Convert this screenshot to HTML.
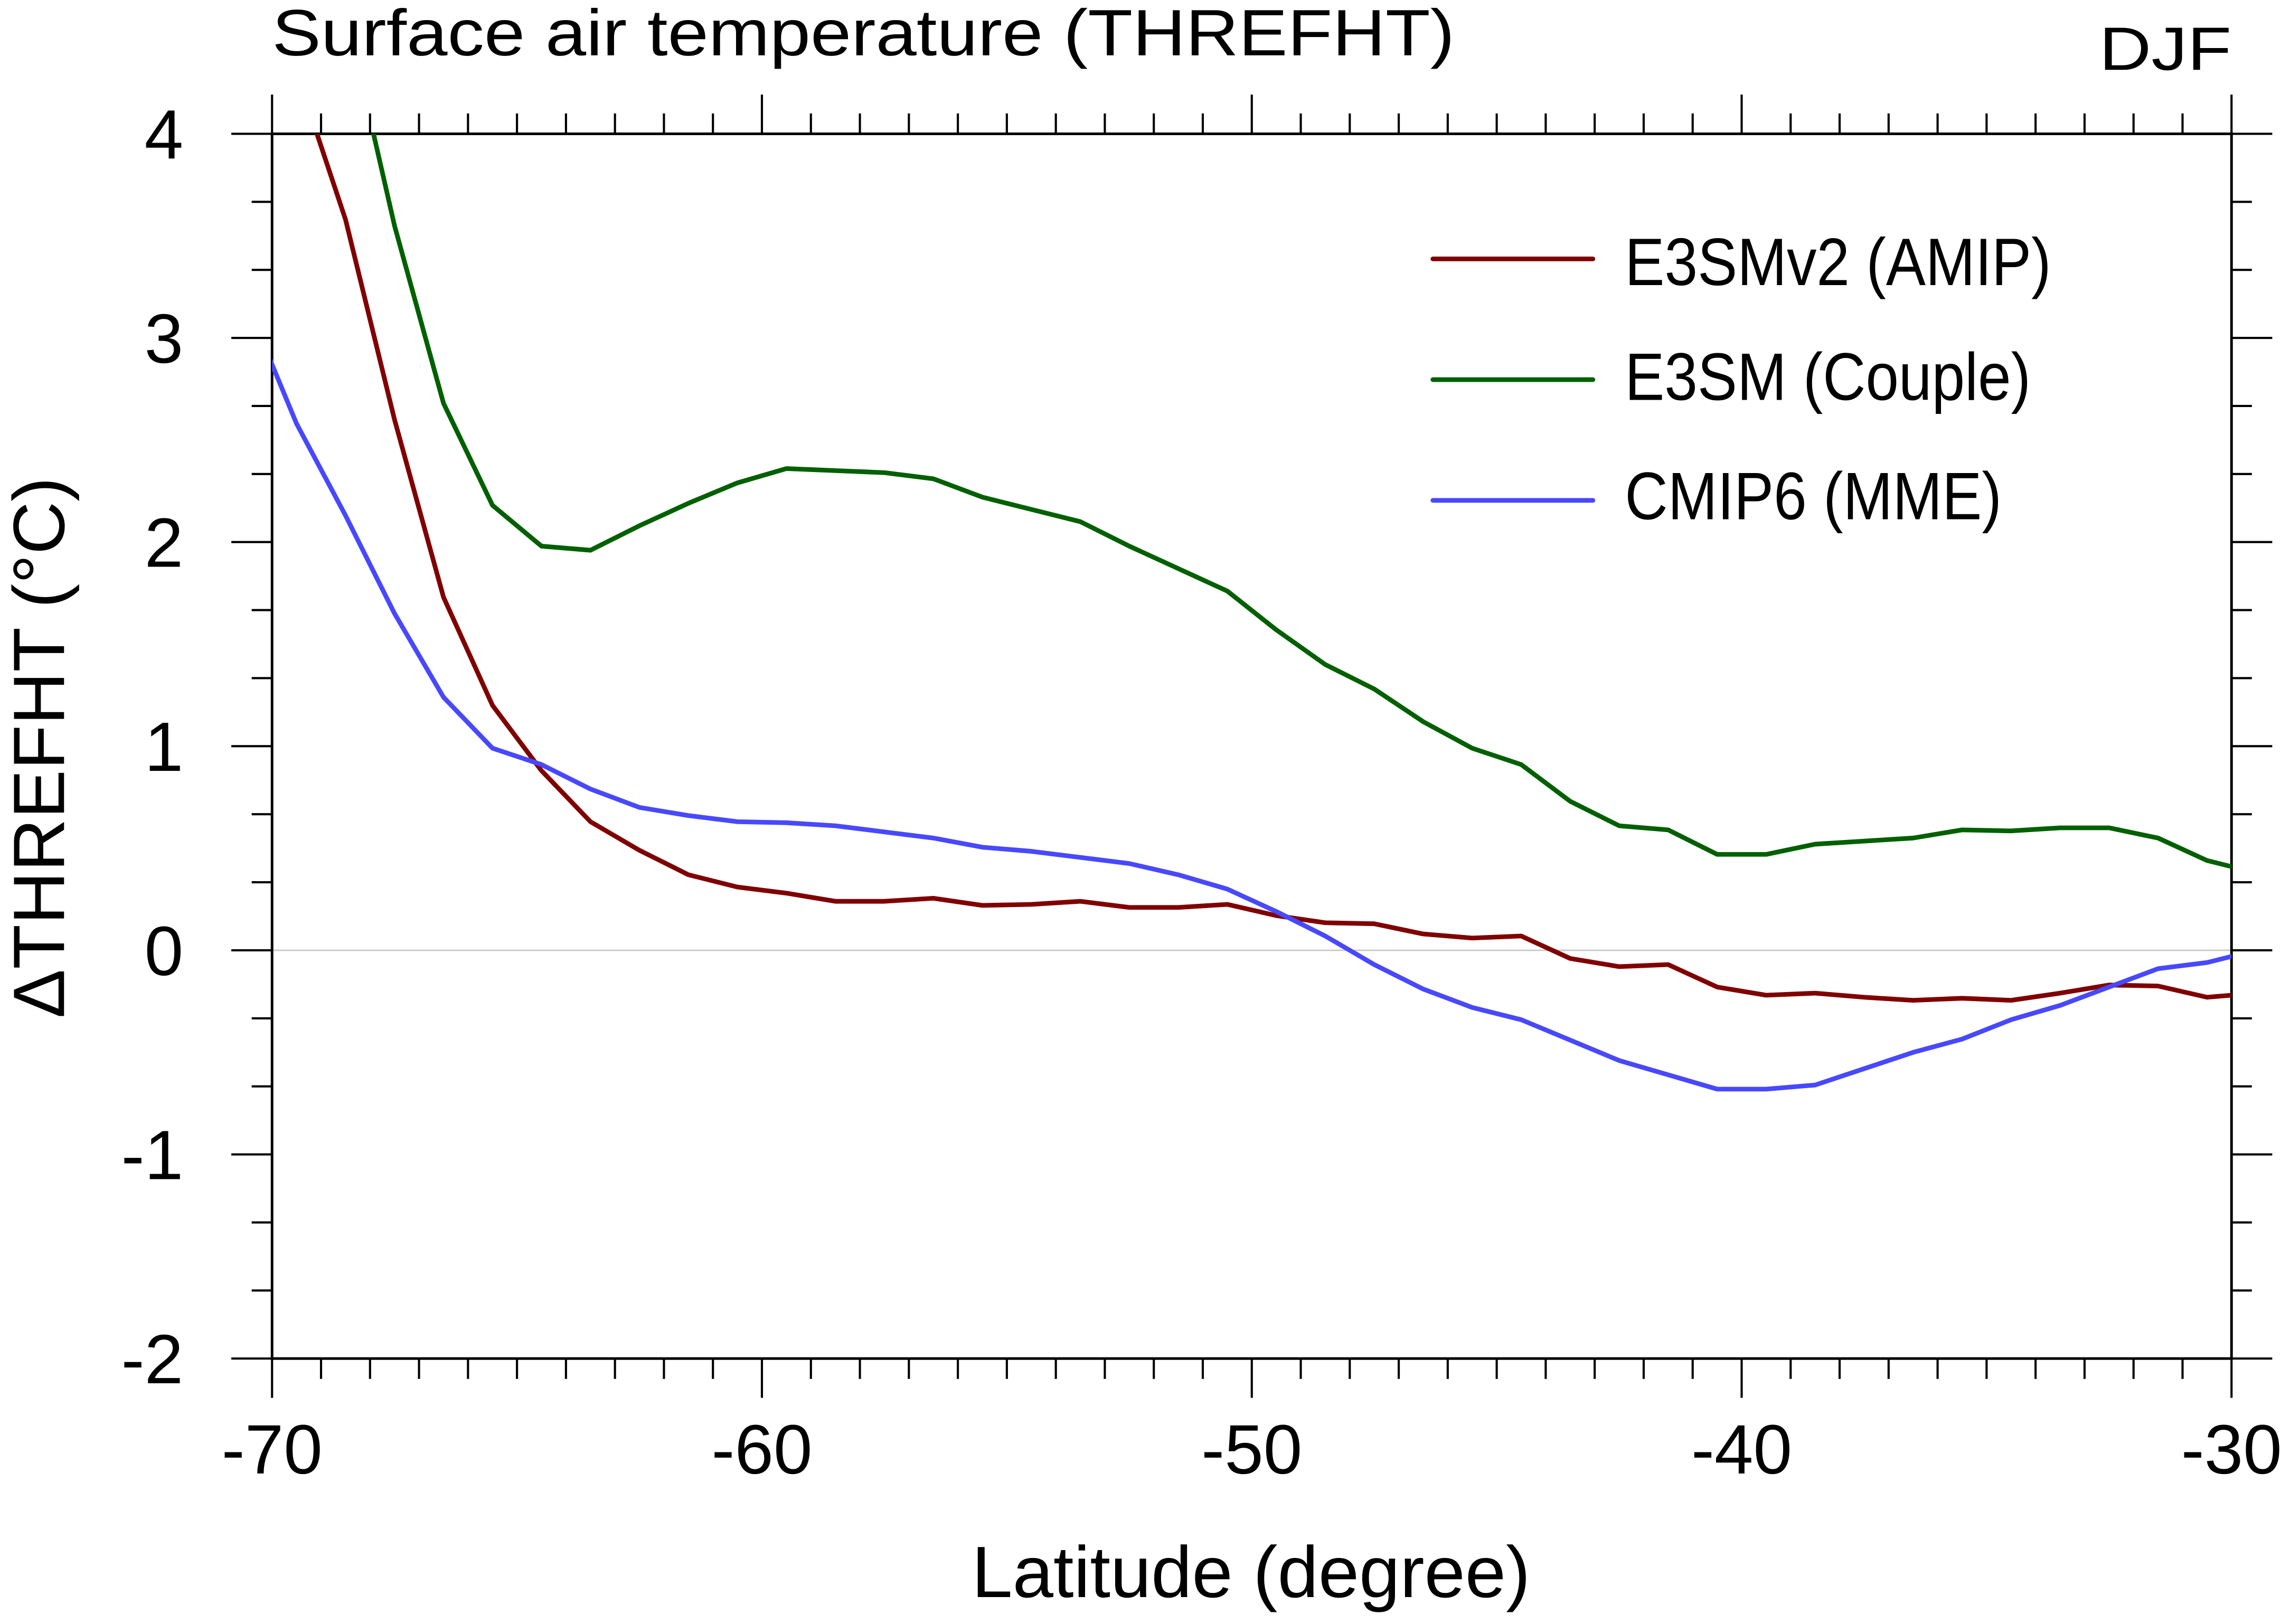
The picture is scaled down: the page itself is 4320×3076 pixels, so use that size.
<!DOCTYPE html>
<html><head><meta charset="utf-8"><style>html,body{margin:0;padding:0;background:#fff}svg{display:block}text{font-family:"Liberation Sans",sans-serif;fill:#000}</style></head>
<body>
<svg id="chart" width="4320" height="3076" viewBox="0 0 1568 1116.5" xmlns="http://www.w3.org/2000/svg">
<defs><clipPath id="plotclip"><rect x="187" y="92" width="1347" height="842"/></clipPath></defs>
<g id="axes"></g>
<g id="series" clip-path="url(#plotclip)"></g>
<text x="187" y="38" font-size="45" textLength="813" lengthAdjust="spacingAndGlyphs">Surface air temperature (THREFHT)</text>
<text x="1443" y="48" font-size="42" textLength="91" lengthAdjust="spacingAndGlyphs">DJF</text>
<text x="668" y="1098" font-size="50" textLength="384" lengthAdjust="spacingAndGlyphs">Latitude (degree)</text>
<text transform="translate(44,700) rotate(-90)" font-size="50" textLength="372" lengthAdjust="spacingAndGlyphs">ΔTHREFHT (°C)</text>
<g>
<line x1="985" y1="178" x2="1095" y2="178" stroke="#800000" stroke-width="3.2" stroke-linecap="round"/>
<text x="1117" y="196" font-size="46" textLength="293" lengthAdjust="spacingAndGlyphs">E3SMv2 (AMIP)</text>
<line x1="985" y1="261" x2="1095" y2="261" stroke="#006000" stroke-width="3.2" stroke-linecap="round"/>
<text x="1117" y="275" font-size="46" textLength="279" lengthAdjust="spacingAndGlyphs">E3SM (Couple)</text>
<line x1="985" y1="344" x2="1095" y2="344" stroke="#4848ff" stroke-width="3.2" stroke-linecap="round"/>
<text x="1117" y="357" font-size="46" textLength="259" lengthAdjust="spacingAndGlyphs">CMIP6 (MME)</text>
</g>
</svg>
<script>
const lats = [];
for (let v = -70.5; v <= -29.5; v += 1) lats.push(v);
const e3smv2 = [5.0,4.3,3.58,2.6,1.73,1.2,0.88,0.63,0.49,0.37,0.31,0.28,0.24,0.24,0.255,0.22,0.225,0.24,0.21,0.21,0.225,0.17,0.135,0.13,0.08,0.06,0.07,-0.04,-0.08,-0.07,-0.18,-0.22,-0.21,-0.23,-0.245,-0.235,-0.245,-0.21,-0.17,-0.175,-0.23,-0.21];
const e3sm = [6.6,5.6,4.6,3.55,2.68,2.18,1.98,1.96,2.08,2.19,2.29,2.36,2.35,2.34,2.31,2.22,2.16,2.1,1.98,1.87,1.76,1.57,1.4,1.28,1.12,0.99,0.91,0.73,0.61,0.59,0.47,0.47,0.52,0.535,0.55,0.59,0.585,0.6,0.6,0.55,0.44,0.38];
const cmip6 = [3.16,2.58,2.13,1.65,1.24,0.99,0.91,0.79,0.70,0.66,0.63,0.625,0.61,0.58,0.55,0.505,0.485,0.455,0.425,0.37,0.3,0.19,0.07,-0.07,-0.19,-0.28,-0.34,-0.44,-0.54,-0.61,-0.68,-0.68,-0.66,-0.58,-0.5,-0.435,-0.34,-0.27,-0.18,-0.09,-0.06,0.0];
const xTicks = [-70,-60,-50,-40,-30];
const yTicks = [-2,-1,0,1,2,3,4];

const NS = 'http://www.w3.org/2000/svg';
const X0 = 187, X1 = 1534, Y0 = 934, Y1 = 92;
const xs = v => X0 + (v + 70) / 40 * (X1 - X0);
const ys = v => Y0 - (v + 2) / 6 * (Y0 - Y1);
function mk(tag, attrs, parent) {
  const e = document.createElementNS(NS, tag);
  for (const k in attrs) e.setAttribute(k, attrs[k]);
  parent.appendChild(e);
  return e;
}
const axes = document.getElementById('axes');
let zl = mk('line', {x1:X0,x2:X1,y1:ys(0),y2:ys(0),stroke:'#c8c8c8','stroke-width':1}, axes);


let fr = mk('rect', {x:X0,y:Y1,width:X1-X0,height:Y0-Y1,fill:'none',stroke:'#000','stroke-width':1.8}, axes);


for (let v = -70; v <= -30; v += 1) {
  const major = v % 10 === 0;
  const L = major ? 27 : 14;
  const x = xs(v);
  let t1 = mk('line', {x1:x,x2:x,y1:Y0,y2:Y0+L,stroke:'#000','stroke-width':1.5}, axes);
  
  
  let t2 = mk('line', {x1:x,x2:x,y1:Y1,y2:Y1-L,stroke:'#000','stroke-width':1.5}, axes);
  
  
}
xTicks.forEach(v => {
  const t = mk('text', {x:xs(v), y:1013, 'font-size':48, 'text-anchor':'middle'}, axes);
  t.textContent = v;
  
  
});
for (let v = -2; v <= 4.001; v += 1/3) {
  const major = Math.abs(v - Math.round(v)) < 0.01;
  const L = major ? 28 : 14;
  const y = ys(v);
  let t1 = mk('line', {x1:X0,x2:X0-L,y1:y,y2:y,stroke:'#000','stroke-width':1.5}, axes);
  
  
  let t2 = mk('line', {x1:X1,x2:X1+L,y1:y,y2:y,stroke:'#000','stroke-width':1.5}, axes);
  
  
}
yTicks.forEach(v => {
  const t = mk('text', {x:126, y:ys(v)+17, 'font-size':48, 'text-anchor':'end'}, axes);
  t.textContent = v;
  
  
});
const sg = document.getElementById('series');
function draw(vals, color, name) {
  const d = vals.map((v, i) => (i ? 'L' : 'M') + xs(lats[i]).toFixed(2) + ',' + ys(v).toFixed(2)).join(' ');
  const p = mk('path', {d:d, fill:'none', stroke:color, 'stroke-width':3.2, 'stroke-linejoin':'round'}, sg);
  
  
}
draw(e3smv2, '#800000', 'line-e3smv2-amip');
draw(e3sm, '#006000', 'line-e3sm-couple');
draw(cmip6, '#4848ff', 'line-cmip6-mme');
</script>
</body></html>
